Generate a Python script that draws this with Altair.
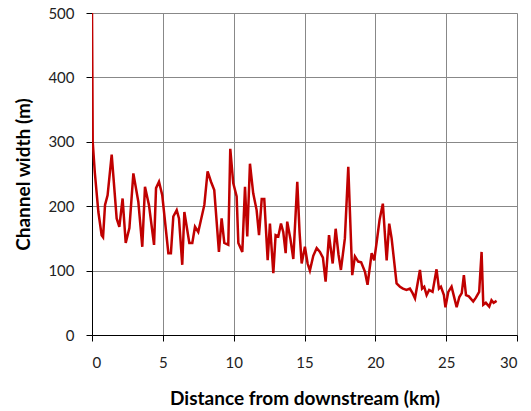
import altair as alt
import pandas as pd

distance_km = [
    0.0, 0.05, 0.2, 0.45, 0.68, 0.78, 0.92, 1.1, 1.39, 1.74, 1.93, 2.16, 2.38, 2.64,
    2.92, 3.27, 3.55, 3.74, 4.02, 4.38, 4.52, 4.73, 4.96, 5.39, 5.57, 5.74, 5.98,
    6.14, 6.37, 6.52, 6.87, 7.08, 7.27, 7.5, 7.93, 8.16, 8.4, 8.63, 8.96, 9.15,
    9.34, 9.62, 9.76, 9.97, 10.21, 10.33, 10.61, 10.8, 10.96, 11.15, 11.38, 11.62,
    11.79, 11.98, 12.16, 12.4, 12.56, 12.8, 12.96, 13.15, 13.34, 13.5, 13.67, 13.78,
    14.0, 14.21, 14.49, 14.65, 14.8, 15.03, 15.22, 15.38, 15.62, 15.86, 16.09, 16.3,
    16.49, 16.73, 16.99, 17.2, 17.4, 17.57, 17.85, 18.09, 18.37, 18.56, 18.79, 19.0,
    19.27, 19.45, 19.74, 19.92, 20.1, 20.3, 20.53, 20.8, 20.98, 21.15, 21.5, 21.74,
    21.95, 22.2, 22.44, 22.63, 22.8, 23.15, 23.3, 23.45, 23.62, 23.8, 24.04, 24.32,
    24.49, 24.63, 24.84, 24.95, 25.15, 25.38, 25.55, 25.74, 25.93, 26.1, 26.25,
    26.4, 26.6, 26.91, 27.1, 27.33, 27.5, 27.62, 27.8, 28.04, 28.2, 28.35, 28.56,
]
channel_width_m = [
    500, 300, 252, 191, 155, 152, 202, 217, 280, 181, 168, 212, 143, 166,
    251, 207, 137, 230, 202, 140, 228, 238, 217, 127, 127, 184, 194,
    181, 109, 191, 143, 143, 168, 160, 202, 254, 238, 225, 129, 181,
    143, 140, 289, 236, 215, 143, 129, 230, 153, 266, 220, 194,
    155, 211, 211, 116, 173, 96, 155, 153, 173, 160, 127, 176,
    150, 118, 238, 160, 111, 137, 111, 100, 123, 135, 129, 120,
    83, 155, 111, 165, 125, 101, 150, 261, 93, 122, 114, 113,
    98, 78, 127, 116, 145, 179, 204, 116, 173, 150, 80, 75,
    72, 70, 72, 65, 57, 101, 72, 75, 62, 70, 67, 102,
    72, 75, 62, 43, 67, 75, 60, 43, 59, 65, 93,
    62, 60, 52, 58, 67, 129, 47, 50, 44, 54, 50, 53,
]

x_ticks = [0, 5, 10, 15, 20, 25, 30]
y_ticks = [0, 100, 200, 300, 400, 500]

df = pd.DataFrame({"d": distance_km, "w": channel_width_m})

FONT = "Lato"

chart = alt.Chart(df).mark_line(color="#C00000", strokeWidth=2.5, clip=True).encode(
    x=alt.X(
        "d:Q",
        scale=alt.Scale(domain=[0, 30], nice=False, zero=False),
        axis=alt.Axis(
            values=x_ticks,
            title="Distance from downstream (km)",
            titleFont=FONT, titleFontSize=19, titleFontWeight="bold", titleColor="#000000",
            titlePadding=19,
            labelFont=FONT, labelFontSize=15, labelColor="#222222", labelPadding=14,
            tickSize=6, tickColor="#000000", domainColor="#000000",
            gridColor="#888888", gridWidth=1,
        ),
    ),
    y=alt.Y(
        "w:Q",
        scale=alt.Scale(domain=[0, 500], nice=False),
        axis=alt.Axis(
            values=y_ticks,
            title="Channel width (m)",
            titleFont=FONT, titleFontSize=19, titleFontWeight="bold", titleColor="#000000",
            titlePadding=14,
            labelFont=FONT, labelFontSize=15, labelColor="#222222", labelPadding=12,
            tickSize=6, tickColor="#000000", domainColor="#000000",
            gridColor="#888888", gridWidth=1,
        ),
    ),
).properties(
    width=425,
    height=322,
    autosize=alt.AutoSizeParams(type="none"),
    padding={"left": 92, "top": 13, "right": 14, "bottom": 76},
).configure_view(stroke="#888888", strokeWidth=1).configure(background="white")

chart.save("out.html", embed_options={"renderer": "svg", "actions": False})
